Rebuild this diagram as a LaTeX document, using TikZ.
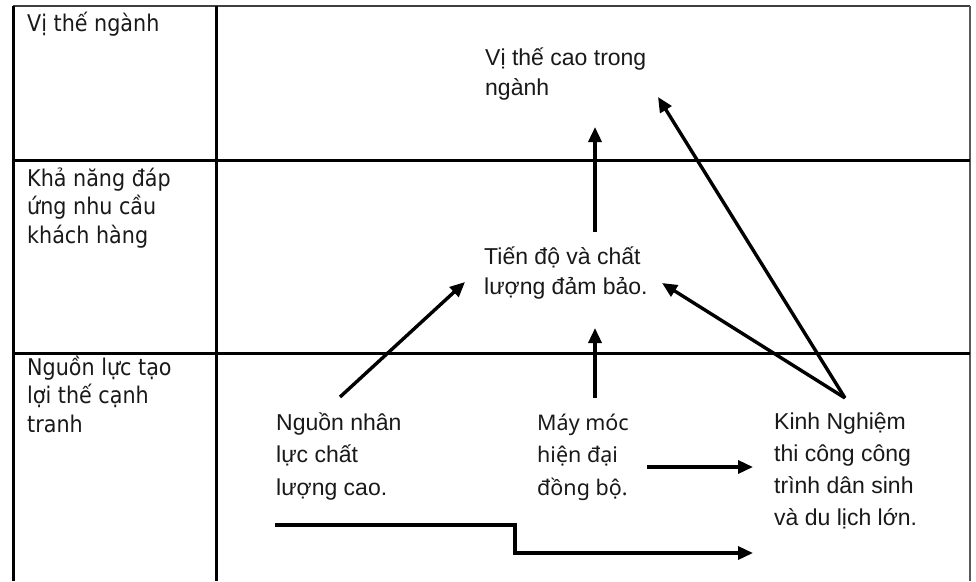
\documentclass[tikz,border=0pt]{standalone}
\usepackage{fontspec}
\usetikzlibrary{arrows.meta}
\newfontfamily\leftfont{DejaVu Sans}[FakeStretch=0.9]
\newfontfamily\arialfont{Liberation Sans}
\newfontfamily\segfont{Noto Sans}
\begin{document}
\begin{tikzpicture}[x=1pt,y=-1pt,
  grid/.style={line width=3pt, black},
  conn/.style={line width=3.4pt, line join=miter, -{Triangle[length=15pt,width=13pt]}},
  lbl/.style={anchor=base west, inner sep=0pt, align=left, text=black!90, font=\leftfont\fontsize{23}{28.5}\selectfont},
  dtext/.style={anchor=base west, inner sep=0pt, align=left, text=black!90, font=\arialfont\fontsize{23}{30}\selectfont}]
\useasboundingbox (0,0) rectangle (976,581);
\fill[white] (0,0) rectangle (976,581);
% table
\draw[line width=2.6pt, black!75] (13,6) -- (970,6);
\draw[line width=2.2pt, black!65] (970,6) -- (970,581);
\draw[grid] (13,581) -- (13,6);
\draw[grid] (216,6) -- (216,581);
\draw[grid] (13,160) -- (970,160);
\draw[grid] (13,353) -- (970,353);
% row labels (anchor = baseline of last line)
\node[lbl] (l1) at (27,31) {Vị thế ngành};
\node[lbl] (l2) at (27,243) {Khả năng đáp\\ứng nhu cầu\\khách hàng};
\node[lbl] (l3) at (27,432) {Nguồn lực tạo\\lợi thế cạnh\\tranh};
% diagram texts
\node[dtext] (top) at (485,95) {Vị thế cao trong\\ngành};
\node[dtext] (mid) at (484,294) {Tiến độ và chất\\lượng đảm bảo.};
\node[dtext, font=\arialfont\fontsize{23}{32.5}\selectfont] (nl) at (276,495) {Nguồn nhân\\lực chất\\lượng cao.};
\node[dtext, font=\segfont\fontsize{21.5}{32.5}\selectfont] (mm) at (537,495) {Máy móc\\hiện đại\\đồng bộ.};
\node[dtext, font=\arialfont\fontsize{23}{32}\selectfont] (kn) at (774,525) {Kinh Nghiệm\\thi công công\\trình dân sinh\\và du lịch lớn.};
% connector ends
\coordinate (a1s) at (340,397);
\coordinate (a1e) at (465,282);
\coordinate (a2s) at (595,398);
\coordinate (a2e) at (595,328);
\coordinate (a3s) at (595,232);
\coordinate (a3e) at (595,127);
\coordinate (kntop) at (845,398);
\coordinate (a4e) at (658,97);
\coordinate (a5e) at (662,283);
\coordinate (a6s) at (647,467);
\coordinate (a6e) at (753,467);
\coordinate (a7s) at (275,525);
\coordinate (a7b) at (515,525);
\coordinate (a7c) at (515,553);
\coordinate (a7e) at (753,553);
% connectors
\draw[conn] (a1s) -- (a1e);
\draw[conn] (a2s) -- (a2e);
\draw[conn] (a3s) -- (a3e);
\draw[conn] (kntop) -- (a4e);
\draw[conn] (kntop) -- (a5e);
\draw[conn] (a6s) -- (a6e);
\draw[conn] (a7s) -- (a7b) -- (a7c) -- (a7e);
\end{tikzpicture}
\end{document}
